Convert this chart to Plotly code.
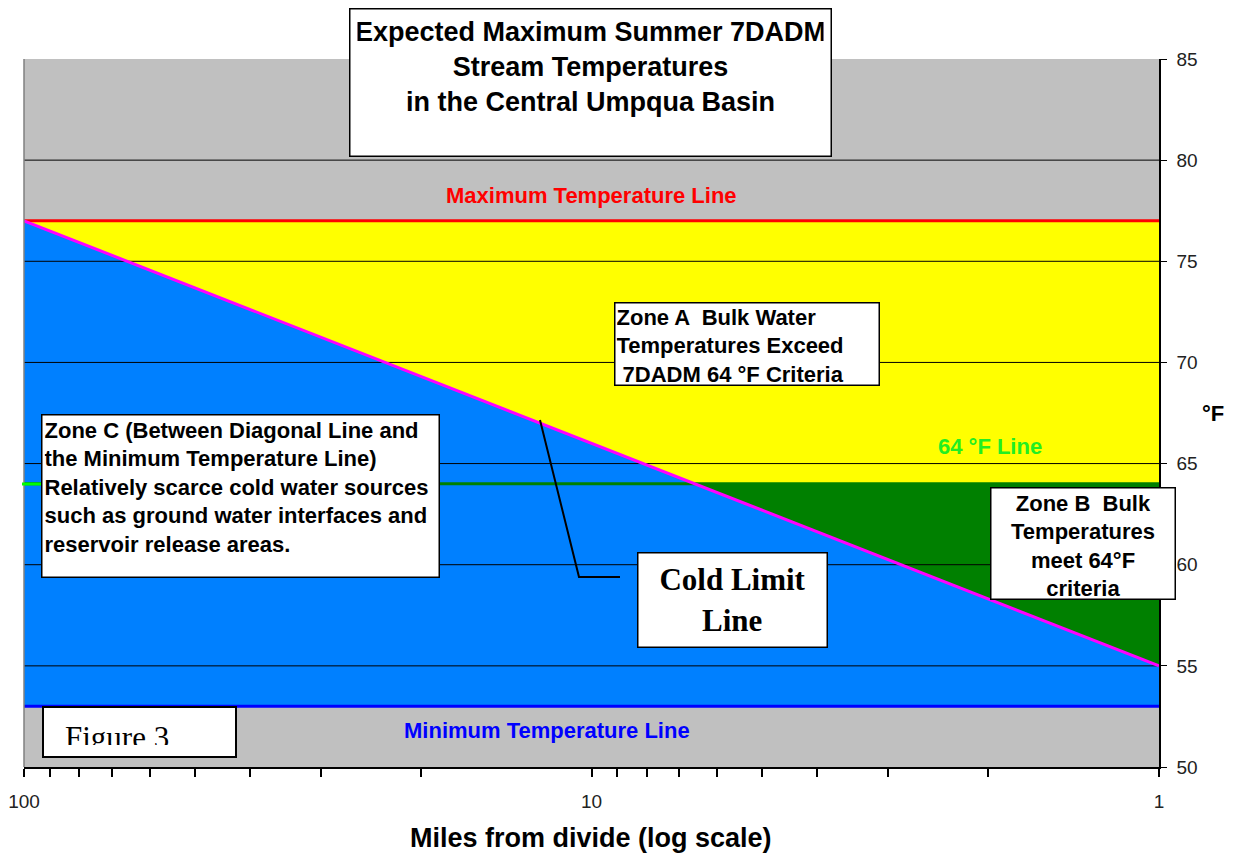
import math
import plotly.graph_objects as go

# ---------------- data ----------------
x_ends = [100, 1]                 # miles from divide (log scale), left -> right
max_temp = 77                     # Maximum Temperature Line (°F)
min_temp = 53                     # Minimum Temperature Line (°F)
crit_temp = 64                    # 64 °F criterion line
cold_limit = [77, 55]             # Cold Limit (diagonal) at x=100 and x=1
y_ticks = [50, 55, 60, 65, 70, 75, 80, 85]
grid_vals = [55, 60, 65, 70, 75, 80]
x_ticks = [100, 90, 80, 70, 60, 50, 40, 30, 20, 10, 9, 8, 7, 6, 5, 4, 3, 2, 1]
x_tick_labels = ["100"] + [""] * 8 + ["10"] + [""] * 8 + ["1"]

# intersection of cold limit line with 64 °F line (linear in log x)
l0, l1 = math.log10(x_ends[0]), math.log10(x_ends[1])
frac = (crit_temp - cold_limit[0]) / (cold_limit[1] - cold_limit[0])
x_cross = 10 ** (l0 + frac * (l1 - l0))

ARIAL = "Arial, 'Liberation Sans', sans-serif"
TIMES = "'Times New Roman', 'Liberation Serif', serif"

W, H = 1235, 854
OFF = 8                       # page body margin of the html page
ML, MR, MT, MB = 24, 76, 59, 87
PW, PH = W - ML - MR, H - MT - MB


def px(x):
    return (x - ML) / PW


def py(y):
    return (H - MB - y) / PH


fig = go.Figure()

# zone fills
fig.add_trace(go.Scatter(
    x=[x_ends[0], x_ends[1], x_ends[1], x_cross, x_ends[0]],
    y=[max_temp, max_temp, crit_temp, crit_temp, cold_limit[0]],
    fill="toself", fillcolor="#FFFF00", mode="lines", line=dict(width=0),
    hoverinfo="skip"))
fig.add_trace(go.Scatter(
    x=[x_ends[0], x_ends[0], x_cross, x_ends[1], x_ends[1], x_ends[0]],
    y=[min_temp, cold_limit[0], crit_temp, cold_limit[1], min_temp, min_temp],
    fill="toself", fillcolor="#0080FF", mode="lines", line=dict(width=0),
    hoverinfo="skip"))
fig.add_trace(go.Scatter(
    x=[x_cross, x_ends[1], x_ends[1], x_cross],
    y=[crit_temp, crit_temp, cold_limit[1], crit_temp],
    fill="toself", fillcolor="#008000", mode="lines", line=dict(width=0),
    hoverinfo="skip"))

# gridlines drawn over the fills
for g in grid_vals:
    fig.add_trace(go.Scatter(x=x_ends, y=[g, g], mode="lines",
                             line=dict(color="black", width=1), hoverinfo="skip"))

# series lines
fig.add_trace(go.Scatter(x=x_ends, y=[crit_temp, crit_temp], mode="lines",
                         line=dict(color="#008000", width=3), hoverinfo="skip"))
fig.add_trace(go.Scatter(x=x_ends, y=[max_temp, max_temp], mode="lines",
                         line=dict(color="#FF0000", width=3), hoverinfo="skip"))
fig.add_trace(go.Scatter(x=x_ends, y=[min_temp, min_temp], mode="lines",
                         line=dict(color="#0000FF", width=3), hoverinfo="skip"))
fig.add_trace(go.Scatter(x=x_ends, y=cold_limit, mode="lines",
                         line=dict(color="#FF00FF", width=3), hoverinfo="skip"))

annotations = []


def box(text, x0, x1, y0, y1, size, family=ARIAL, align="left", valign="top",
        pad=3, bold=True):
    bw = 1.5
    annotations.append(dict(
        xref="paper", yref="paper", x=px((x0 + x1) / 2), y=py((y0 + y1) / 2),
        xanchor="center", yanchor="middle", showarrow=False,
        text=("<b>%s</b>" % text) if bold else text,
        font=dict(family=family, size=size, color="black"),
        align=align, valign=valign,
        width=(x1 - x0) - 2 * (bw + pad), height=(y1 - y0) - 2 * (bw + pad),
        bgcolor="white", bordercolor="black", borderwidth=bw, borderpad=pad))


def label(text, x, y, size, color):
    annotations.append(dict(
        xref="paper", yref="paper", x=px(x), y=py(y), xanchor="center",
        yanchor="middle", showarrow=False, text="<b>%s</b>" % text,
        font=dict(family=ARIAL, size=size, color=color)))


box("Expected Maximum Summer 7DADM<br>Stream Temperatures<br>in the Central Umpqua Basin",
    349, 832, 8, 157, 27, align="center", valign="top", pad=7)
box("Zone A  Bulk Water<br>Temperatures Exceed<br> 7DADM 64 °F Criteria",
    614, 880, 302, 386, 22, align="left", valign="top", pad=1)
box("Zone C (Between Diagonal Line and<br>the Minimum Temperature Line)<br>"
    "Relatively scarce cold water sources<br>such as ground water interfaces and<br>"
    "reservoir release areas.",
    41, 440, 414, 578, 22, align="left", valign="top", pad=2)
box("Zone B  Bulk<br>Temperatures<br>meet 64°F<br>criteria",
    990, 1176, 487, 600, 22, align="center", valign="top", pad=2)
box("Cold Limit<br>Line", 637, 828, 552, 648, 31, family=TIMES,
    align="center", valign="middle", pad=1)

# Figure 3 label: text clipped at the bottom inside its frame
annotations.append(dict(
    xref="paper", yref="paper", x=px(139.5), y=py(732.5), xanchor="center",
    yanchor="middle", showarrow=False, text="Figure 3",
    font=dict(family=TIMES, size=31, color="black"), align="left", valign="top",
    width=193 - 2 * 22, height=25, borderpad=0, borderwidth=0))

label("Maximum Temperature Line", 591, 195, 22, "#FF0000")
label("Minimum Temperature Line", 547, 730, 22, "#0000FF")
label("64 °F Line", 990, 447, 22, "#22EE22")
label("°F", 1213, 413, 22, "black")
annotations.append(dict(
    xref="paper", yref="paper", x=px(591), y=py(838), xanchor="center",
    yanchor="middle", showarrow=False, text="<b>Miles from divide (log scale)</b>",
    font=dict(family=ARIAL, size=27, color="black")))

shapes = [
    # callout leader for the cold limit line
    dict(type="path", xref="paper", yref="paper",
         path="M %f %f L %f %f L %f %f" % (px(540), py(420), px(579), py(577),
                                           px(620), py(577)),
         line=dict(color="black", width=2), layer="above"),
    # left border of plot area
    dict(type="line", xref="paper", yref="paper", x0=0, x1=0, y0=0, y1=1,
         line=dict(color="#808080", width=1.5), layer="above"),
    # bright green stub of the 64 °F line at the left edge
    dict(type="line", xref="paper", yref="paper", x0=px(22), x1=px(41),
         y0=py(484), y1=py(484), line=dict(color="#00FF00", width=3), layer="above"),
    # Figure 3 frame
    dict(type="rect", xref="paper", yref="paper", x0=px(43), x1=px(236),
         y0=py(757), y1=py(707), fillcolor="white",
         line=dict(color="black", width=2), layer="above"),
]

fig.update_layout(
    width=W - OFF, height=H - OFF,
    margin=dict(l=ML - OFF, r=MR, t=MT - OFF, b=MB),
    paper_bgcolor="white", plot_bgcolor="#C0C0C0",
    showlegend=False, hovermode=False,
    annotations=annotations, shapes=shapes,
    xaxis=dict(type="log", range=[l0, l1], tickvals=x_ticks, ticktext=x_tick_labels,
               ticks="outside", ticklen=8, tickwidth=2, tickcolor="black",
               showline=True, linecolor="black", linewidth=2, showgrid=False,
               zeroline=False, ticklabelstandoff=8, automargin=False,
               tickfont=dict(family=ARIAL, size=19, color="#222222")),
    yaxis=dict(side="right", range=[50, 85], tickvals=y_ticks, ticks="outside",
               ticklen=6, tickcolor="black", showline=True, linecolor="black",
               linewidth=1.5, showgrid=False, zeroline=False, ticklabelstandoff=6,
               automargin=False,
               tickfont=dict(family=ARIAL, size=19, color="#222222")),
)

fig.write_html("out.html")
